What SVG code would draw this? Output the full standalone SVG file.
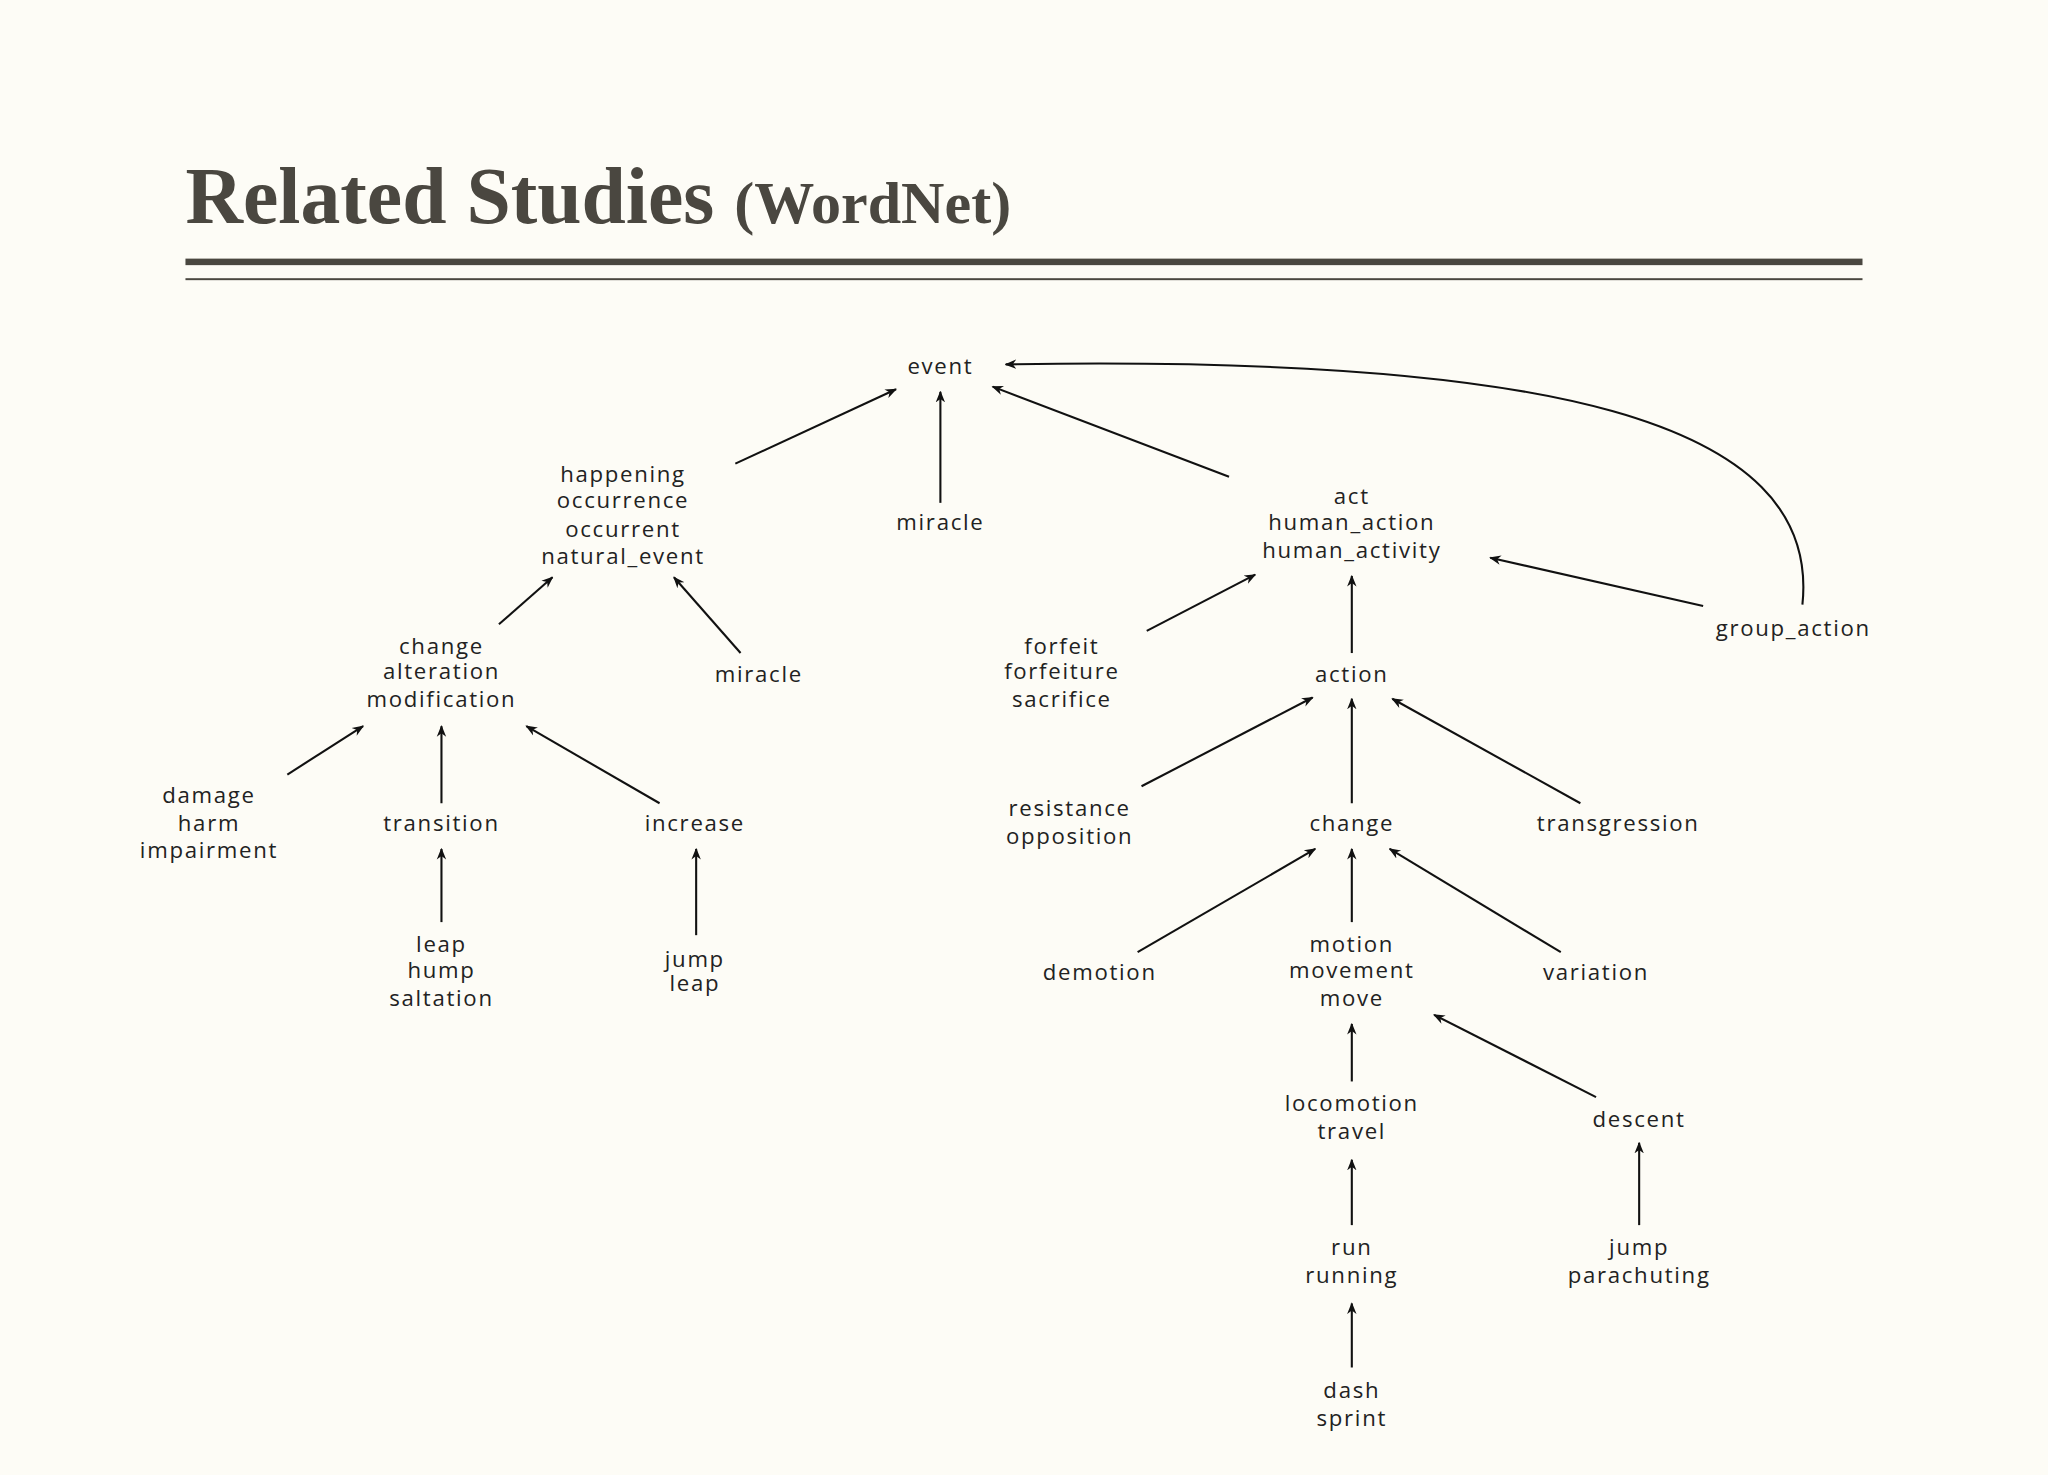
<svg xmlns="http://www.w3.org/2000/svg" width="2048" height="1475" viewBox="0 0 2048 1475">
<defs>
<marker id="ah" viewBox="0 0 10 10" refX="9" refY="5" markerWidth="9" markerHeight="9" markerUnits="userSpaceOnUse" orient="auto"><path d="M0,1 L10,5 L0,9 L3,5 Z" fill="#111"/></marker>
<style>
.t{font-family:"Open Sans","DejaVu Sans",sans-serif;font-size:17px;fill:#222;text-anchor:middle;letter-spacing:1.3px}
.c{stroke:#111;stroke-width:1.6;fill:none;marker-end:url(#ah)}
</style>
</defs>
<rect width="2048" height="1475" fill="#fdfcf6"/>
<g transform="scale(1.3061)">
<g id="title">
<text x="142" y="171" font-family="Liberation Serif,serif" font-weight="bold" font-size="61" fill="#4a4740">Related Studies <tspan font-size="46">(WordNet)</tspan></text>
<rect x="142" y="198" width="1284" height="5" fill="#4a4740"/>
<rect x="142" y="213" width="1284" height="1.5" fill="#4a4740"/>
</g>
<g id="connectors">
<line class="c" x1="563" y1="355" x2="686" y2="298"/>
<line class="c" x1="720" y1="385" x2="720" y2="300"/>
<line class="c" x1="941" y1="365" x2="760" y2="296"/>
<path class="c" d="M1380,463 C1395,320 1180,272 770,279"/>
<line class="c" x1="382" y1="478" x2="423" y2="442"/>
<line class="c" x1="567" y1="500" x2="516" y2="442"/>
<line class="c" x1="878" y1="483" x2="961" y2="440"/>
<line class="c" x1="1035" y1="500" x2="1035" y2="441"/>
<line class="c" x1="1304" y1="464" x2="1141" y2="427"/>
<line class="c" x1="220" y1="593" x2="278" y2="556"/>
<line class="c" x1="338" y1="615" x2="338" y2="556"/>
<line class="c" x1="505" y1="615" x2="403" y2="556"/>
<line class="c" x1="874" y1="602" x2="1005" y2="534"/>
<line class="c" x1="1035" y1="615" x2="1035" y2="535"/>
<line class="c" x1="1210" y1="615" x2="1066" y2="535"/>
<line class="c" x1="338" y1="706" x2="338" y2="650"/>
<line class="c" x1="533" y1="716" x2="533" y2="650"/>
<line class="c" x1="871" y1="729" x2="1007" y2="650"/>
<line class="c" x1="1035" y1="706" x2="1035" y2="650"/>
<line class="c" x1="1195" y1="729" x2="1064" y2="650"/>
<line class="c" x1="1035" y1="828" x2="1035" y2="784"/>
<line class="c" x1="1222" y1="840" x2="1098" y2="777"/>
<line class="c" x1="1035" y1="938" x2="1035" y2="888"/>
<line class="c" x1="1255" y1="938" x2="1255" y2="875"/>
<line class="c" x1="1035" y1="1047" x2="1035" y2="998"/>
</g>
<g id="n-event"><text class="t" x="720" y="286">event</text></g>
<g id="n-happening"><text class="t" x="477" y="369">happening</text><text class="t" x="477" y="389">occurrence</text><text class="t" x="477" y="411">occurrent</text><text class="t" x="477" y="432">natural_event</text></g>
<g id="n-miracle1"><text class="t" x="720" y="406">miracle</text></g>
<g id="n-act"><text class="t" x="1035" y="386">act</text><text class="t" x="1035" y="406">human_action</text><text class="t" x="1035" y="427">human_activity</text></g>
<g id="n-change1"><text class="t" x="338" y="501">change</text><text class="t" x="338" y="520">alteration</text><text class="t" x="338" y="541">modification</text></g>
<g id="n-miracle2"><text class="t" x="581" y="522">miracle</text></g>
<g id="n-forfeit"><text class="t" x="813" y="501">forfeit</text><text class="t" x="813" y="520">forfeiture</text><text class="t" x="813" y="541">sacrifice</text></g>
<g id="n-action"><text class="t" x="1035" y="522">action</text></g>
<g id="n-group"><text class="t" x="1373" y="487">group_action</text></g>
<g id="n-damage"><text class="t" x="160" y="615">damage</text><text class="t" x="160" y="636">harm</text><text class="t" x="160" y="657">impairment</text></g>
<g id="n-transition"><text class="t" x="338" y="636">transition</text></g>
<g id="n-increase"><text class="t" x="532" y="636">increase</text></g>
<g id="n-resistance"><text class="t" x="819" y="625">resistance</text><text class="t" x="819" y="646">opposition</text></g>
<g id="n-change2"><text class="t" x="1035" y="636">change</text></g>
<g id="n-transgression"><text class="t" x="1239" y="636">transgression</text></g>
<g id="n-leap"><text class="t" x="338" y="729">leap</text><text class="t" x="338" y="749">hump</text><text class="t" x="338" y="770">saltation</text></g>
<g id="n-jump1"><text class="t" x="532" y="740">jump</text><text class="t" x="532" y="759">leap</text></g>
<g id="n-demotion"><text class="t" x="842" y="750">demotion</text></g>
<g id="n-motion"><text class="t" x="1035" y="729">motion</text><text class="t" x="1035" y="749">movement</text><text class="t" x="1035" y="770">move</text></g>
<g id="n-variation"><text class="t" x="1222" y="750">variation</text></g>
<g id="n-locomotion"><text class="t" x="1035" y="851">locomotion</text><text class="t" x="1035" y="872">travel</text></g>
<g id="n-descent"><text class="t" x="1255" y="863">descent</text></g>
<g id="n-run"><text class="t" x="1035" y="961">run</text><text class="t" x="1035" y="982">running</text></g>
<g id="n-jump2"><text class="t" x="1255" y="961">jump</text><text class="t" x="1255" y="982">parachuting</text></g>
<g id="n-dash"><text class="t" x="1035" y="1070">dash</text><text class="t" x="1035" y="1092">sprint</text></g>
</g>
</svg>
